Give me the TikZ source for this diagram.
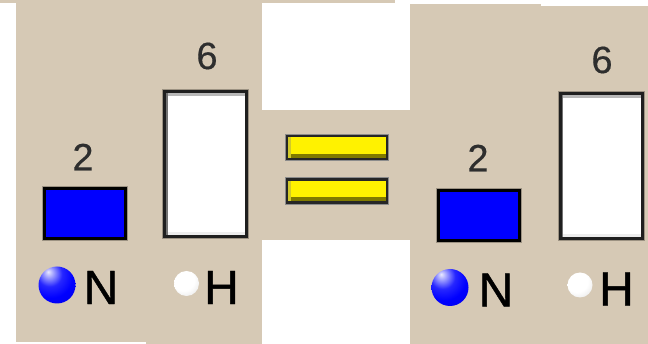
\documentclass[tikz,border=0pt]{standalone}
\usepackage{fontspec}
\setmainfont{Liberation Sans}
\definecolor{beige}{HTML}{D6C9B5}
\definecolor{halo}{HTML}{9C9282}
\definecolor{numgray}{HTML}{2E2E2E}
\definecolor{olive}{HTML}{807A00}
\pgfdeclareradialshading{blueball}{\pgfpoint{-12bp}{18bp}}{%
  color(0bp)=(blue!8!white); color(7bp)=(blue!40!white); color(17bp)=(blue!85!white);
  color(30bp)=(blue); color(55bp)=(blue!88!black); color(68bp)=(blue!65!black); color(100bp)=(blue!65!black)}
\pgfdeclareradialshading{whiteball}{\pgfpoint{-8bp}{10bp}}{%
  color(0bp)=(white); color(22bp)=(white); color(40bp)=(black!10); color(52bp)=(black!22); color(66bp)=(black!38); color(100bp)=(black!38)}
\begin{document}
\begin{tikzpicture}[x=1pt,y=-1pt,
  num/.style={font=\fontsize{38}{38}\selectfont\addfontfeature{FakeBold=0.4}, text=numgray, inner sep=0pt},
  lbl/.style={font=\fontsize{48}{48}\selectfont\addfontfeature{FakeBold=0.9}, text=black, inner sep=0pt},
  bluebox/.style={rectangle, draw=black, line width=3pt, fill=blue, minimum width=81pt, minimum height=50pt, inner sep=0pt,
    preaction={draw=halo, line width=5pt}},
  whitebox/.style={rectangle, draw=black!88, line width=3pt, fill=white, minimum width=82pt, minimum height=145pt, inner sep=0pt,
    preaction={draw=halo, line width=5pt},
    path picture={
      \fill[black!28] (path picture bounding box.north west) rectangle ([yshift=-4.5pt]path picture bounding box.north east);
      \fill[black!7] (path picture bounding box.south west) rectangle ([yshift=4.5pt]path picture bounding box.south east);
      \fill[black!55] (path picture bounding box.south west) rectangle ([xshift=3pt]path picture bounding box.north west);
    }},
  yellowbar/.style={rectangle, draw=black!85, line width=2.2pt, fill=yellow, minimum width=100pt, minimum height=23pt, inner sep=0pt,
    preaction={draw=black!45, line width=4.5pt},
    path picture={
      \fill[olive] (path picture bounding box.south west) rectangle ([yshift=5pt]path picture bounding box.south east);
      \fill[yellow!80!black] (path picture bounding box.south west) rectangle ([xshift=4pt]path picture bounding box.north west);
    }},
  ballN/.style={circle, inner sep=0pt, minimum size=37pt, shading=blueball},
  ballH/.style={circle, inner sep=0pt, minimum size=25pt, shading=whiteball},
]
\useasboundingbox (0,0) rectangle (648,344);
\fill[white] (0,0) rectangle (648,344);
% background panels
\fill[beige] (0,0) rectangle (395,3.5);
\fill[beige] (16,0) rectangle (146,342);
\fill[beige] (146,0) rectangle (262,344);
\fill[beige] (262,110) rectangle (410,240);
\fill[beige] (410,4) rectangle (541,344);
\fill[beige] (541,6) rectangle (648,344);

% left side
\node[num] (lnum2) at (83,157) {2};
\node[num] (lnum6) at (207,56) {6};
\node[bluebox] (lbarN) at (85,213.5) {};
\node[whitebox] (lbarH) at (205.5,164) {};
\node[ballN] (lballN) at (57,285) {};
\node[lbl] (lN) at (101,287.5) {N};
\node[ballH] (lballH) at (186.5,283.5) {};
\node[lbl] (lH) at (221.5,287.5) {H};

% equals sign
\node[yellowbar] (eqtop) at (337,147.5) {};
\node[yellowbar] (eqbot) at (337,191) {};

% right side
\node[num] (rnum2) at (478,158) {2};
\node[num] (rnum6) at (602,60) {6};
\node[bluebox] (rbarN) at (479,215.5) {};
\node[whitebox] (rbarH) at (601,166.5) {};
\node[ballN] (rballN) at (450,287.5) {};
\node[lbl] (rN) at (496,290) {N};
\node[ballH] (rballH) at (580,285) {};
\node[lbl] (rH) at (616.5,289) {H};
\end{tikzpicture}
\end{document}
